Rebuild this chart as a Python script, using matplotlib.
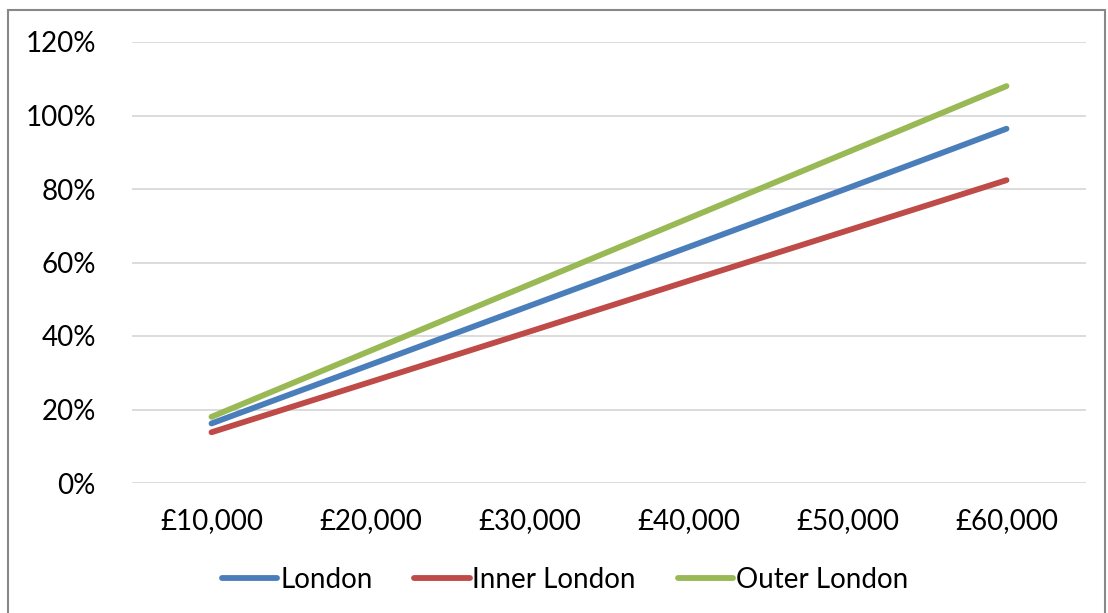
import matplotlib.pyplot as plt
from matplotlib.patches import Rectangle

# salary bands and the share for each area
salaries = ["£10,000", "£20,000", "£30,000", "£40,000", "£50,000", "£60,000"]
london = [16.2, 32.2, 48.2, 64.2, 80.2, 96.4]
inner_london = [13.8, 27.5, 41.2, 55.0, 68.7, 82.4]
outer_london = [18.0, 36.0, 54.0, 72.0, 90.0, 108.0]

plt.rcParams['font.family'] = ['Lato', 'DejaVu Sans']

fig = plt.figure(figsize=(11.08, 6.13), dpi=100)
ax = fig.add_axes([132 / 1108, 1 - 483 / 613, (1086 - 132) / 1108, (483 - 42) / 613])

x = range(len(salaries))
ax.plot(x, london, color="#4a7ebb", linewidth=4.2, solid_capstyle="round", label="London")
ax.plot(x, inner_london, color="#be4b48", linewidth=4.2, solid_capstyle="round", label="Inner London")
ax.plot(x, outer_london, color="#98b954", linewidth=4.2, solid_capstyle="round", label="Outer London")

ax.set_xlim(-0.5, len(salaries) - 0.5)
ax.set_ylim(0, 120)
ax.set_yticks(range(0, 121, 20))
ax.set_yticklabels([f"{v}%" for v in range(0, 121, 20)])
ax.set_xticks(list(x))
ax.set_xticklabels(salaries)
ax.tick_params(axis="both", length=0, labelsize=20, colors="black")
ax.tick_params(axis="y", pad=26)
ax.tick_params(axis="x", pad=18)

ax.grid(axis="y", color="#d9d9d9", linewidth=1.3)
ax.set_axisbelow(True)
for s in ax.spines.values():
    s.set_visible(False)

# grey frame round the chart
fig.patches.append(Rectangle((8 / 1108, -0.05), (1105 - 8) / 1108, 1.05 - 10 / 613,
                             transform=fig.transFigure, fill=False,
                             edgecolor="#888888", linewidth=1.5))

fig.legend(loc="center", bbox_to_anchor=(565 / 1108, 1 - 580 / 613), ncol=3,
           frameon=False, fontsize=20, handlelength=2.0, handletextpad=0.1,
           columnspacing=1.5)

fig.savefig("out.png", dpi=100)
